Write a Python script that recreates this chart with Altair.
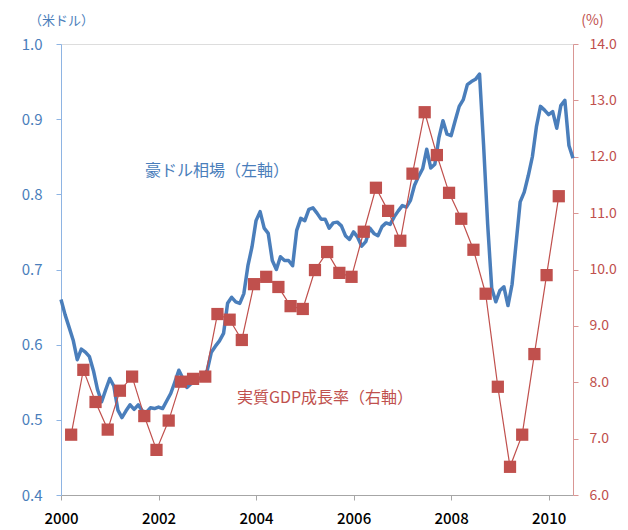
import altair as alt
import pandas as pd

# Monthly AUD/USD (Jan 2000 - Jul 2010), left axis
aud = [
    0.660, 0.640, 0.623, 0.606, 0.580, 0.594, 0.590, 0.584, 0.565, 0.540, 0.524, 0.540,
    0.555, 0.545, 0.513, 0.503, 0.512, 0.520, 0.514, 0.520, 0.512, 0.510, 0.516, 0.515,
    0.517, 0.515, 0.525, 0.535, 0.550, 0.566, 0.555, 0.543, 0.548, 0.552, 0.555, 0.558,
    0.566, 0.590, 0.598, 0.605, 0.615, 0.655, 0.663, 0.657, 0.655, 0.668, 0.705, 0.730,
    0.765, 0.777, 0.755, 0.748, 0.712, 0.700, 0.717, 0.712, 0.712, 0.705, 0.752, 0.768,
    0.765, 0.780, 0.782, 0.775, 0.767, 0.767, 0.755, 0.762, 0.763, 0.758, 0.745, 0.740,
    0.750, 0.743, 0.731, 0.737, 0.755, 0.748, 0.745, 0.757, 0.762, 0.760, 0.770, 0.778,
    0.785, 0.783, 0.792, 0.812, 0.824, 0.834, 0.860, 0.835, 0.840, 0.875, 0.898, 0.880,
    0.878, 0.898, 0.917, 0.926, 0.946, 0.950, 0.953, 0.960, 0.865, 0.760, 0.675, 0.657,
    0.672, 0.677, 0.652, 0.680, 0.735, 0.790, 0.803, 0.825, 0.850, 0.890, 0.917, 0.912,
    0.906, 0.910, 0.888, 0.918, 0.925, 0.865, 0.848,
]

# Quarterly real GDP growth, % (Q1 2000 - Q1 2010), right axis
gdp = [
    7.07, 8.22, 7.65, 7.16,
    7.85, 8.10, 7.40, 6.80,
    7.32, 8.01, 8.06, 8.10,
    9.21, 9.11, 8.75, 9.74,
    9.87, 9.69, 9.35, 9.30,
    9.99, 10.31, 9.94, 9.87,
    10.67, 11.45, 11.04, 10.51,
    11.70, 12.79, 12.03, 11.36,
    10.90, 10.35, 9.57, 7.92,
    6.50, 7.07, 8.50, 9.90,
    11.30,
]

year_ticks = [2000, 2002, 2004, 2006, 2008, 2010]
left_ticks = [0.4, 0.5, 0.6, 0.7, 0.8, 0.9, 1.0]
right_ticks = [6, 7, 8, 9, 10, 11, 12, 13, 14]

BLUE = "#4A7EBB"
RED = "#C0504D"
FONT = "Noto Sans CJK JP"

df_aud = pd.DataFrame({"t": [2000 + i / 12 for i in range(len(aud))], "aud": aud})
df_gdp = pd.DataFrame({"t": [2000 + (3 * k + 2.5) / 12 for k in range(len(gdp))], "gdp": gdp})

xscale = alt.Scale(domain=[2000, 2010.5], nice=False, zero=False)
xaxis = alt.Axis(values=year_ticks, format="d", title=None, grid=False,
                 domainColor="#A6A6A6", tickColor="#A6A6A6", tickSize=5,
                 labelColor="#000000", labelFontSize=15, labelPadding=11,
                 labelFont=FONT, labelFlush=False, labelFontWeight=500)

blue = alt.Chart(df_aud).mark_line(color=BLUE, strokeWidth=3.5, strokeJoin="round").encode(
    x=alt.X("t:Q", scale=xscale, axis=xaxis),
    y=alt.Y("aud:Q", scale=alt.Scale(domain=[0.4, 1.0], nice=False, zero=False),
            axis=alt.Axis(values=left_ticks, format=".1f", grid=False, orient="left",
                          title="（米ドル）", titleAngle=0, titleX=0, titleY=-24,
                          titleAlign="center", titleBaseline="middle",
                          titleColor=BLUE, titleFontSize=13, titleFontWeight="normal",
                          titleFont=FONT,
                          domainColor="#8EB4E3", tickColor="#8EB4E3", tickSize=5,
                          labelColor=BLUE, labelFontSize=15, labelPadding=14,
                          labelFont=FONT)),
)

red = alt.Chart(df_gdp).mark_line(
    color=RED, strokeWidth=1.2,
    point=alt.OverlayMarkDef(shape="square", size=150, filled=True, color=RED, opacity=1),
).encode(
    x=alt.X("t:Q", scale=xscale, axis=xaxis),
    y=alt.Y("gdp:Q", scale=alt.Scale(domain=[6, 14], nice=False, zero=False),
            axis=alt.Axis(values=right_ticks, format=".1f", grid=False, orient="right",
                          title="(%)", titleAngle=0, titleX=19, titleY=-24,
                          titleAlign="center", titleBaseline="middle",
                          titleColor=RED, titleFontSize=14, titleFontWeight="normal",
                          titleFont=FONT,
                          domainColor="#D99694", tickColor="#D99694", tickSize=5,
                          labelColor=RED, labelFontSize=14, labelPadding=11,
                          labelFont=FONT)),
)

lbl_blue = alt.Chart(pd.DataFrame({"s": ["豪ドル相場（左軸）"]})).mark_text(
    color=BLUE, fontSize=16, font=FONT, align="center", baseline="middle"
).encode(text="s:N", x=alt.value(156), y=alt.value(127))

lbl_red = alt.Chart(pd.DataFrame({"s": ["実質GDP成長率（右軸）"]})).mark_text(
    color=RED, fontSize=16, font=FONT, align="center", baseline="middle"
).encode(text="s:N", x=alt.value(264), y=alt.value(354))

chart = alt.layer(blue, red, lbl_blue, lbl_red).resolve_scale(y="independent").properties(
    width=512, height=451,
    autosize=alt.AutoSizeParams(type="none"),
    padding={"left": 53, "top": 36, "right": 47, "bottom": 34},
).configure_view(stroke=None).configure(background="white")

chart.save("out.html", embed_options={"renderer": "svg", "actions": False})
